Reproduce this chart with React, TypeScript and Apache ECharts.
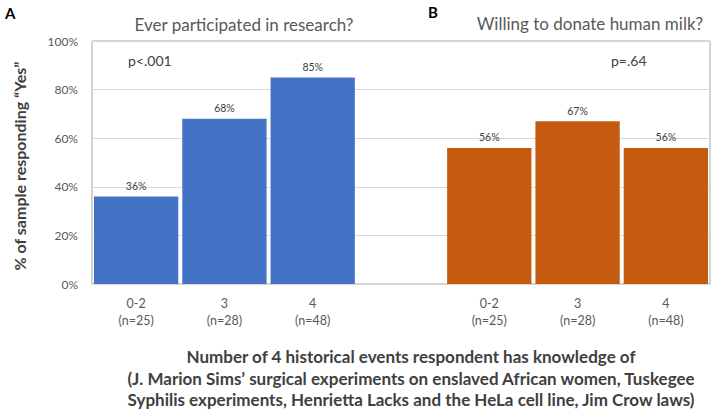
import React, { useEffect, useRef } from "react";
import * as echarts from "echarts";

const categoryKeys = ["a0", "a1", "a2", "gap", "b0", "b1", "b2"];
const categoryLabels = ["0-2\n(n=25)", "3\n(n=28)", "4\n(n=48)", "", "0-2\n(n=25)", "3\n(n=28)", "4\n(n=48)"];
const researchValues = [36, 68, 85, null, null, null, null];
const milkValues = [null, null, null, null, 56, 67, 56];
const yTicks = [0, 20, 40, 60, 80, 100];

const FONT = "Lato, 'Open Sans', sans-serif";

export default function App() {
  const ref = useRef<HTMLDivElement>(null);
  useEffect(() => {
    if (!ref.current) return;
    const chart = echarts.init(ref.current, null, { renderer: "svg" });
    const labelStyle = {
      show: true,
      position: "top",
      distance: 5,
      formatter: "{c}%",
      fontSize: 10.5,
      color: "#404040",
      fontFamily: FONT,
    };
    chart.setOption({
      animation: false,
      backgroundColor: "#ffffff",
      textStyle: { fontFamily: FONT },
      grid: {
        left: 92,
        top: 41,
        width: 618,
        height: 243,
        show: true,
        borderColor: "#a6a6a6",
        borderWidth: 1,
        backgroundColor: "transparent",
      },
      xAxis: {
        type: "category",
        data: categoryKeys,
        axisLine: { show: true, lineStyle: { color: "#d9d9d9", width: 1 } },
        axisTick: { show: false },
        axisLabel: {
          interval: 0,
          margin: 11,
          fontSize: 12.5,
          lineHeight: 17,
          color: "#595959",
          fontFamily: FONT,
          formatter: (_v: string, i: number) => categoryLabels[i],
        },
      },
      yAxis: {
        type: "value",
        min: yTicks[0],
        max: yTicks[yTicks.length - 1],
        interval: 20,
        axisLine: { show: false },
        axisTick: { show: false },
        splitLine: { lineStyle: { color: "#d9d9d9", width: 1 } },
        axisLabel: {
          margin: 14,
          fontSize: 12,
          color: "#595959",
          fontFamily: FONT,
          formatter: "{value}%",
        },
      },
      series: [
        {
          type: "bar",
          stack: "all",
          data: researchValues,
          barCategoryGap: "4.5%",
          itemStyle: { color: "#4472C4" },
          label: labelStyle,
        },
        {
          type: "bar",
          stack: "all",
          data: milkValues,
          barCategoryGap: "4.5%",
          itemStyle: { color: "#C55A11" },
          label: labelStyle,
        },
      ],
      graphic: [
        {
          type: "text",
          left: 5,
          top: 5,
          style: { text: "A", font: `bold 15px ${FONT}`, fill: "#000000" },
        },
        {
          type: "text",
          left: 428,
          top: 4,
          style: { text: "B", font: `bold 15px ${FONT}`, fill: "#000000" },
        },
        {
          type: "text",
          x: 244,
          y: 24,
          style: {
            text: "Ever participated in research?",
            font: `17px ${FONT}`,
            fill: "#595959",
            align: "center",
            verticalAlign: "middle",
          },
        },
        {
          type: "text",
          x: 590,
          y: 23,
          style: {
            text: "Willing to donate human milk?",
            font: `17px ${FONT}`,
            fill: "#595959",
            align: "center",
            verticalAlign: "middle",
          },
        },
        {
          type: "text",
          x: 128,
          y: 60,
          style: {
            text: "p<.001",
            font: `14px ${FONT}`,
            fill: "#404040",
            align: "left",
            verticalAlign: "middle",
          },
        },
        {
          type: "text",
          x: 611,
          y: 60,
          style: {
            text: "p=.64",
            font: `14px ${FONT}`,
            fill: "#404040",
            align: "left",
            verticalAlign: "middle",
          },
        },
        {
          type: "text",
          x: 19,
          y: 166,
          rotation: Math.PI / 2,
          style: {
            text: "% of sample responding \u201cYes\u201d",
            font: `bold 16px ${FONT}`,
            fill: "#404040",
            align: "center",
            verticalAlign: "middle",
          },
        },
        {
          type: "text",
          x: 411,
          y: 378,
          style: {
            text:
              "Number of 4 historical events respondent has knowledge of\n(J. Marion Sims\u2019 surgical experiments on enslaved African women, Tuskegee\nSyphilis experiments, Henrietta Lacks and the HeLa cell line, Jim Crow laws)",
            font: `bold 17px ${FONT}`,
            lineHeight: 21.5,
            fill: "#404040",
            align: "center",
            verticalAlign: "middle",
          },
        },
      ],
    });
    return () => chart.dispose();
  }, []);
  return (
    <div
      ref={ref}
      style={{ position: "absolute", left: 0, top: 0, width: 715, height: 411 }}
    />
  );
}
